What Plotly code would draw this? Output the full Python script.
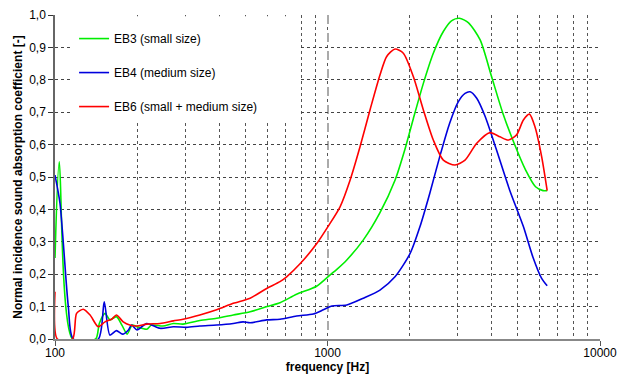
import plotly.graph_objects as go

# ---- data ----
eb3_freq = [100, 103.7, 116, 141, 145.4, 152.6, 159, 168, 176, 184, 192, 200, 217, 226, 249, 272, 295, 340, 392, 451, 520, 600, 669, 770, 912, 1023, 1082, 1177, 1354, 1558, 1769, 1923, 2065, 2248, 2445, 2661, 2850, 3048, 3293, 3633, 4000, 4400, 4840, 5330, 5800, 6180, 6400]
eb3_alpha = [0.25, 0.547, 0.0, 0.0, 0.048, 0.079, 0.059, 0.069, 0.043, 0.015, 0.043, 0.038, 0.03, 0.043, 0.04, 0.048, 0.046, 0.057, 0.064, 0.074, 0.084, 0.1, 0.112, 0.138, 0.163, 0.198, 0.215, 0.244, 0.306, 0.39, 0.49, 0.585, 0.68, 0.789, 0.882, 0.949, 0.982, 0.99, 0.976, 0.923, 0.81, 0.697, 0.604, 0.522, 0.47, 0.458, 0.458]

eb4_freq = [100, 104.3, 111.9, 116.7, 144.2, 151.6, 159, 168, 177, 186, 191, 200, 217, 243, 272, 304, 340, 392, 451, 490, 520, 598, 669, 770, 887, 966, 1038, 1177, 1354, 1558, 1769, 2010, 2185, 2374, 2582, 2807, 3018, 3197, 3337, 3529, 3793, 4172, 4659, 5234, 5666, 6107, 6400]
eb4_alpha = [0.506, 0.419, 0.1, 0.0, 0.0, 0.115, 0.012, 0.026, 0.015, 0.028, 0.043, 0.028, 0.048, 0.033, 0.038, 0.036, 0.04, 0.043, 0.048, 0.053, 0.05, 0.059, 0.061, 0.071, 0.077, 0.09, 0.102, 0.105, 0.126, 0.151, 0.192, 0.264, 0.347, 0.45, 0.563, 0.666, 0.732, 0.758, 0.763, 0.743, 0.686, 0.583, 0.46, 0.347, 0.254, 0.187, 0.164]

eb6_freq = [100, 102, 116, 120, 127, 134.5, 144, 152.6, 161.4, 168, 178, 188, 200, 217, 243, 272, 295, 340, 392, 451, 520, 598, 669, 708, 793, 912, 1004, 1112, 1210, 1317, 1432, 1558, 1649, 1769, 1898, 2065, 2248, 2445, 2661, 2937, 3197, 3529, 3947, 4295, 4606, 4943, 5234, 5508, 5772, 6107, 6400]
eb6_alpha = [0.146, 0.0, 0.0, 0.079, 0.092, 0.074, 0.038, 0.053, 0.061, 0.074, 0.053, 0.043, 0.04, 0.046, 0.048, 0.056, 0.061, 0.074, 0.09, 0.11, 0.126, 0.156, 0.177, 0.192, 0.232, 0.294, 0.347, 0.408, 0.49, 0.594, 0.707, 0.815, 0.872, 0.895, 0.882, 0.81, 0.707, 0.614, 0.552, 0.537, 0.552, 0.604, 0.637, 0.624, 0.614, 0.63, 0.676, 0.694, 0.655, 0.563, 0.458]

series_names = ["EB3 (small size)", "EB4 (medium size)", "EB6 (small + medium size)"]
series_colors = ["#00ee00", "#0000dd", "#ff0000"]

x_tick_vals = [100, 1000, 10000]
x_tick_text = ["100", "1000", "10000"]

FONT = "Liberation Sans, Arial, sans-serif"

fig = go.Figure()
for i, (fx, fy) in enumerate([(eb3_freq, eb3_alpha), (eb4_freq, eb4_alpha), (eb6_freq, eb6_alpha)]):
    fig.add_trace(go.Scatter(
        x=fx, y=fy, mode="lines", name=series_names[i], legendgroup=f"g{i}",
        line=dict(color=series_colors[i], width=1.6, shape="spline", smoothing=0.7),
        cliponaxis=True,
    ))

# white panel behind the legend (covers the grid, like the original; no curve passes there)
fig.add_shape(type="rect", xref="paper", yref="paper",
              x0=0.0275, x1=0.4495, y0=0.675, y1=0.996,
              fillcolor="white", line=dict(width=0), layer="above")

fig.update_layout(
    width=621, height=378,
    margin=dict(l=55, r=21, t=15, b=39),
    paper_bgcolor="white", plot_bgcolor="white",
    font=dict(family=FONT, size=12, color="black"),
    separators=", ",
    showlegend=True,
    legend=dict(
        x=0.035, y=0.972, xanchor="left", yanchor="top",
        bgcolor="rgba(255,255,255,0)", borderwidth=0,
        font=dict(family=FONT, size=12, color="black"),
        traceorder="grouped", tracegroupgap=15,
    ),
)

fig.update_xaxes(
    type="log", range=[2, 4], automargin=False,
    tickmode="array", tickvals=x_tick_vals, ticktext=x_tick_text,
    showgrid=True, gridcolor="#aaaaaa", griddash="dash", gridwidth=2,
    ticks="outside", ticklen=5, tickcolor="#555555", ticklabelstandoff=-3,
    showline=True, linecolor="#888888", linewidth=2,
    zeroline=False,
    minor=dict(dtick="D1", showgrid=True, gridcolor="#555555", griddash="dot", gridwidth=1,
               ticks=""),
    title=dict(text="frequency [Hz]", font=dict(family=FONT, size=12, weight=700), standoff=1),
    tickfont=dict(family=FONT, size=12),
)

fig.update_yaxes(
    range=[0, 1], dtick=0.1, tick0=0, tickformat=".1f", automargin=False,
    showgrid=True, gridcolor="#444444", griddash="dot", gridwidth=1,
    ticks="outside", ticklen=5, tickcolor="#333333",
    showline=True, linecolor="#666666", linewidth=1.5,
    zeroline=False,
    title=dict(text="Normal incidence sound absorption coefficient [-]",
               font=dict(family=FONT, size=12, weight=700), standoff=4),
    tickfont=dict(family=FONT, size=12),
)

fig.write_html("out.html", config={"displayModeBar": False},
               post_script="document.body.style.margin='0';document.body.style.overflow='hidden';")
